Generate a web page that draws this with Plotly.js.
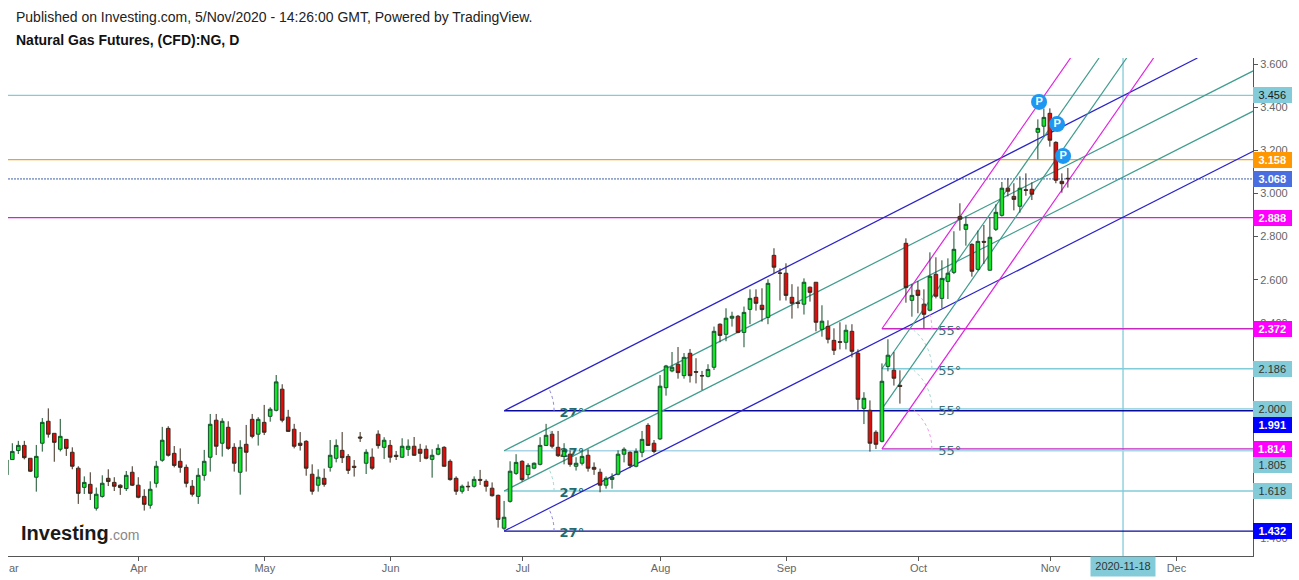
<!DOCTYPE html>
<html>
<head>
<meta charset="utf-8">
<script src="https://cdn.plot.ly/plotly-3.0.1.min.js"></script>
<style>html,body{margin:0;padding:0;background:#fff}</style>
</head>
<body>
<div id="chart" style="width:1299px;height:580px"></div>
<script>
// Daily bars. First bar sits just off the left edge.
const firstBar = -1;
const opens = [1.693,
1.764,1.806,1.830,1.770,1.682,1.840,1.942,1.886,1.812,1.858,
1.798,1.724,1.635,1.649,1.538,1.593,1.677,1.658,1.645,1.629,
1.705,1.645,1.593,1.552,1.654,1.761,1.909,1.793,1.756,1.728,
1.640,1.593,1.691,1.775,1.947,1.840,1.914,1.821,1.705,1.835,
1.951,1.882,1.937,1.965,1.993,2.091,1.961,1.905,1.840,1.849,
1.696,1.645,1.677,1.728,1.770,1.807,1.779,1.733,1.869,1.747,
1.775,1.882,1.821,1.830,1.784,1.775,1.812,1.826,1.812,1.812,
1.765,1.789,1.821,1.756,1.677,1.617,1.640,1.640,1.672,1.663,
1.631,1.598,1.445,1.570,1.700,1.756,1.694,1.724,1.742,1.830,
1.882,1.821,1.779,1.789,1.733,1.747,1.784,1.728,1.705,1.645,
1.672,1.696,1.789,1.798,1.733,1.798,1.923,1.840,1.860,2.098,
2.176,2.207,2.154,2.258,2.173,2.154,2.151,2.193,2.393,2.346,
2.421,2.430,2.355,2.462,2.518,2.481,2.425,2.713,2.631,2.630,
2.518,2.493,2.486,2.565,2.588,2.369,2.383,2.318,2.312,2.309,
2.360,2.258,2.002,1.993,1.891,1.849,2.197,2.179,2.109,2.769,
2.504,2.551,2.486,2.458,2.625,2.513,2.592,2.634,2.894,2.834,
2.764,2.648,2.778,2.644,2.834,2.899,3.025,2.987,2.941,3.018,
3.020,3.285,3.313,3.373,3.238,3.057,3.071];
const closes = [1.762,
1.802,1.830,1.773,1.710,1.779,1.937,1.882,1.844,1.872,1.816,
1.733,1.607,1.658,1.607,1.603,1.654,1.662,1.640,1.634,1.691,
1.645,1.589,1.556,1.626,1.733,1.854,1.784,1.737,1.728,1.654,
1.603,1.691,1.756,1.928,1.826,1.942,1.816,1.747,1.821,1.798,
1.872,1.951,1.891,1.998,2.125,1.947,1.895,1.826,1.830,1.724,
1.617,1.682,1.649,1.784,1.830,1.773,1.714,1.728,1.864,1.798,
1.724,1.829,1.854,1.775,1.778,1.826,1.826,1.784,1.793,1.770,
1.784,1.816,1.733,1.671,1.617,1.640,1.638,1.672,1.668,1.640,
1.596,1.486,1.496,1.710,1.751,1.671,1.737,1.747,1.830,1.877,
1.826,1.782,1.807,1.742,1.747,1.779,1.724,1.719,1.645,1.677,
1.682,1.789,1.812,1.737,1.802,1.858,1.830,1.802,2.105,2.199,
2.193,2.168,2.239,2.154,2.170,2.153,2.183,2.360,2.341,2.421,
2.430,2.355,2.448,2.513,2.490,2.461,2.583,2.658,2.630,2.527,
2.490,2.490,2.588,2.541,2.402,2.407,2.323,2.272,2.309,2.365,
2.267,2.044,2.049,1.840,1.835,2.128,2.249,2.142,2.104,2.563,
2.527,2.527,2.439,2.616,2.523,2.606,2.630,2.741,2.881,2.857,
2.639,2.778,2.774,2.797,2.913,3.025,3.011,2.973,3.025,3.015,
2.997,3.303,3.354,3.248,3.062,3.046,3.069];
const highs = [1.762,
1.840,1.851,1.851,1.770,1.832,1.957,2.002,1.886,1.953,1.858,
1.821,1.733,1.686,1.705,1.634,1.691,1.719,1.682,1.649,1.711,
1.733,1.682,1.626,1.663,1.758,1.916,1.919,1.827,1.816,1.741,
1.669,1.724,1.809,1.976,1.976,1.956,1.942,1.840,1.854,1.925,
1.976,1.961,2.018,2.007,2.157,2.114,1.995,1.930,1.892,1.854,
1.742,1.719,1.722,1.855,1.858,1.892,1.790,1.762,1.892,1.812,
1.816,1.900,1.868,1.855,1.804,1.863,1.858,1.869,1.837,1.830,
1.812,1.835,1.826,1.765,1.686,1.648,1.662,1.686,1.716,1.672,
1.658,1.601,1.572,1.756,1.789,1.761,1.747,1.751,1.868,1.930,
1.897,1.897,1.840,1.807,1.775,1.809,1.812,1.751,1.722,1.686,
1.700,1.807,1.821,1.802,1.816,1.897,1.933,1.855,2.157,2.204,
2.264,2.287,2.259,2.278,2.235,2.176,2.207,2.382,2.397,2.467,
2.451,2.436,2.475,2.555,2.555,2.560,2.602,2.746,2.653,2.676,
2.579,2.568,2.606,2.568,2.588,2.481,2.411,2.374,2.402,2.391,
2.393,2.276,2.077,2.039,1.900,2.211,2.323,2.264,2.179,2.792,
2.580,2.594,2.555,2.727,2.704,2.690,2.699,2.825,2.955,2.893,
2.769,2.828,2.854,2.890,2.950,3.054,3.071,3.048,3.080,3.094,
3.052,3.345,3.396,3.396,3.243,3.094,3.119];
const lows = [1.693,
1.762,1.790,1.765,1.706,1.615,1.801,1.866,1.754,1.802,1.781,
1.719,1.558,1.604,1.576,1.527,1.587,1.641,1.618,1.600,1.618,
1.641,1.584,1.527,1.536,1.634,1.754,1.778,1.728,1.703,1.635,
1.592,1.558,1.666,1.708,1.785,1.778,1.809,1.708,1.601,1.708,
1.863,1.829,1.878,1.940,1.988,1.937,1.894,1.816,1.806,1.689,
1.601,1.615,1.638,1.708,1.751,1.748,1.697,1.685,1.846,1.697,
1.716,1.815,1.767,1.750,1.762,1.772,1.781,1.781,1.753,1.765,
1.680,1.784,1.731,1.666,1.600,1.606,1.618,1.634,1.646,1.615,
1.592,1.448,1.437,1.564,1.693,1.662,1.677,1.719,1.737,1.827,
1.816,1.776,1.742,1.731,1.713,1.737,1.708,1.693,1.612,1.629,
1.629,1.691,1.751,1.724,1.728,1.775,1.827,1.793,1.855,2.061,
2.170,2.140,2.140,2.122,2.118,2.087,2.146,2.180,2.309,2.314,
2.382,2.351,2.286,2.393,2.456,2.405,2.393,2.630,2.503,2.503,
2.419,2.467,2.438,2.498,2.360,2.335,2.304,2.250,2.276,2.276,
2.239,1.995,1.929,1.801,1.813,1.844,2.174,2.108,2.024,2.493,
2.428,2.444,2.374,2.453,2.513,2.467,2.510,2.626,2.828,2.758,
2.614,2.642,2.673,2.642,2.826,2.893,2.987,2.922,2.911,2.990,
2.970,3.159,3.265,3.218,3.048,3.004,3.028];

const monthTickBars = [21.1, 42.1, 63.1, 85.1, 108.1, 129.1, 151.1, 173.1, 194.1];
const monthLabels = ['Apr','May','Jun','Jul','Aug','Sep','Oct','Nov','Dec'];
const priceTicks = [1.4,1.6,1.8,2.0,2.2,2.4,2.6,2.8,3.0,3.2,3.4,3.6];
// 1.6, 1.8, 2.0 and 2.2 sit fully under value tags, so they show no text
const priceTickTexts = ['1.400','','','','','2.400','2.600','2.800','3.000','3.200','3.400','3.600'];

// Horizontal levels: price, first bar, colour
const levelPrices = [3.456, 3.158, 2.888, 2.372, 2.186, 2.000, 1.814, 1.991, 1.805, 1.618, 1.432];
const levelStarts = [-1, -1, -1, 145, 145, 145, 145, 82, 82, 82, 82];
const levelColors = ['#80ccd8','#eda51f','#d81ed8','#c628c0','#80ccd8','#80ccd8','#c628c0','#0a0a9a','#a9d5e6','#80ccd8','#0a0a9a'];
const lastPrice = 3.068;

// Slanted fan lines: start bar, start price, end bar, end price, colour
const fanStartBars = [82, 82, 82, 82, 145, 145, 145, 145];
const fanStartPrices = [1.991, 1.805, 1.618, 1.432, 2.372, 2.186, 2.000, 1.814];
const fanEndBars = [197.6, 206.9, 206.9, 206.9, 176.45, 181.2, 185.8, 190.3];
const fanEndPrices = [3.63, 3.570, 3.383, 3.197, 3.63, 3.63, 3.63, 3.63];
const fanColors = ['#2a22c8','#3f9c8e','#3f9c8e','#2a22c8','#e022e0','#3f9c8e','#3f9c8e','#e022e0'];
const arcColors = ['#8a88d8','#a6d6d2','#a6d6d2','#8a88d8','#f09ae8','#a6d6d2','#a6d6d2','#f09ae8'];
const fanAngles = [27,27,27,27,55,55,55,55];

const verticalBar = 185.2;
const verticalLabel = '2020-11-18';

// Value tags on the price axis: text, centre price, background, text colour
const tagTexts = ['3.456','3.158','3.068','2.888','2.372','2.186','2.000','1.991','1.814','1.805','1.618','1.432'];
const tagPrices = [3.456, 3.158, 3.068, 2.888, 2.372, 2.186, 2.000, 1.925, 1.812, 1.737, 1.618, 1.432];
const tagColors = ['#83cbd9','#ff9800','#4a6ee0','#ff00ff','#ff00ff','#83cbd9','#83cbd9','#0000ff','#ff00ff','#83cbd9','#83cbd9','#0000ff'];
const tagFonts = ['#1a1a1a','#fff','#fff','#fff','#fff','#333','#333','#fff','#fff','#333','#333','#fff'];

const pivotBars = [171.2, 174.2, 175.2];
const pivotPrices = [3.426, 3.323, 3.175];

// Layout geometry
const W = 1299, H = 580, L = 8, R = 1253.5, T = 58, B = 556;
const xMin = -0.717, xMax = 206.87, yMin = 1.316, yMax = 3.63;
const xPx = (R - L) / (xMax - xMin), yPx = (B - T) / (yMax - yMin);
const paperX = px => (px - L) / (R - L);
const paperY = py => 1 - (py - T) / (B - T);

const bars = opens.map((_, i) => firstBar + i);

const trace = {
  type: 'candlestick', x: bars, open: opens, high: highs, low: lows, close: closes,
  increasing: {line: {color: '#14502a', width: 1}, fillcolor: '#10e626'},
  decreasing: {line: {color: '#3a2a1e', width: 1}, fillcolor: '#e00c0c'},
  whiskerwidth: 0, hoverinfo: 'skip', showlegend: false
};
const pivots = {
  type: 'scatter', mode: 'markers+text', x: pivotBars, y: pivotPrices,
  marker: {size: 16, color: '#1c97f2', line: {width: 0}},
  text: ['<b>P</b>','<b>P</b>','<b>P</b>'], textposition: 'middle center',
  textfont: {color: '#fff', size: 11, family: 'Liberation Sans'},
  hoverinfo: 'skip', showlegend: false, cliponaxis: false
};

const shapes = [];
levelPrices.forEach((p, i) => shapes.push({type:'line', layer:'below', xref:'x', yref:'y',
  x0: levelStarts[i], x1: xMax, y0: p, y1: p, line:{color: levelColors[i], width:1.3}}));
shapes.push({type:'line', layer:'below', xref:'x', yref:'y', x0:xMin, x1:xMax, y0:lastPrice, y1:lastPrice,
  line:{color:'#3f5fa8', width:1, dash:'2px,1px'}});
shapes.push({type:'line', layer:'below', xref:'x', yref:'paper', x0:verticalBar, x1:verticalBar, y0:0, y1:1,
  line:{color:'#80ccd8', width:1.3}});
fanStartBars.forEach((b, i) => {
  shapes.push({type:'line', layer:'below', xref:'x', yref:'y', x0:b, y0:fanStartPrices[i], x1:fanEndBars[i], y1:fanEndPrices[i],
    line:{color:fanColors[i], width:1.2}});
  // dotted angle arc, 50 px radius around the fan's anchor
  let d = '';
  for (let a = 0; a <= fanAngles[i]; a += fanAngles[i] / 12) {
    const r = a * Math.PI / 180;
    d += (a === 0 ? 'M' : 'L') + (b + 50 * Math.cos(r) / xPx) + ',' + (fanStartPrices[i] + 50 * Math.sin(r) / yPx);
  }
  shapes.push({type:'path', layer:'below', xref:'x', yref:'y', path:d, line:{color:arcColors[i], width:1, dash:'dot'}});
  // angle label, under the candles
  const cx = fanAngles[i] === 27 ? 93.3 : 156.3;
  const isSmall = fanAngles[i] === 27;
  shapes.push({type:'line', layer:'below', xref:'x', yref:'y', x0:cx-3, x1:cx+3, y0:fanStartPrices[i]-0.004, y1:fanStartPrices[i]-0.004,
    line:{width:0, color:'rgba(0,0,0,0)'},
    label:{text: fanAngles[i] + '°', textposition:'middle', textangle:0, xanchor:'center', yanchor:'middle',
      font:{family:'DejaVu Sans', size:13, color: isSmall ? '#256a6c' : '#3d7078', weight: isSmall ? 'bold' : 'normal'}}});
});
// orange dot of the logo
shapes.push({type:'circle', xref:'paper', yref:'paper', layer:'above',
  x0:paperX(81.5), x1:paperX(84), y0:paperY(526.5), y1:paperY(524), fillcolor:'#f5a623', line:{width:0}});

const fontBase = 'Liberation Sans';
const annotations = [];
tagTexts.forEach((t, i) => annotations.push({xref:'paper', yref:'y', x:paperX(1253.5), y:tagPrices[i], xanchor:'left', yanchor:'middle',
  text: t, showarrow:false, bgcolor: tagColors[i], width:38.5, height:15.5, borderpad:0, borderwidth:0, align:'center', valign:'middle',
  font:{family:fontBase, size:11, color:tagFonts[i], weight: tagFonts[i] === '#fff' ? 'bold' : 'normal'}}));
annotations.push({xref:'x', yref:'paper', x:verticalBar, y:paperY(566), xanchor:'center', yanchor:'middle', text:verticalLabel, showarrow:false,
  bgcolor:'#83cbd9', width:64, height:18.5, borderpad:0, font:{family:fontBase, size:11, color:'#333'}});
annotations.push({xref:'paper', yref:'paper', x:paperX(8), y:paperY(568), xanchor:'left', yanchor:'middle', text:'ar', showarrow:false,
  borderpad:0, font:{family:fontBase, size:11, color:'#666'}});
annotations.push({xref:'paper', yref:'paper', x:paperX(14), y:paperY(17), xanchor:'left', yanchor:'middle', showarrow:false,
  text:'Published on Investing.com, 5/Nov/2020 - 14:26:00 GMT, Powered by TradingView.', font:{family:fontBase, size:14, color:'#222'}});
annotations.push({xref:'paper', yref:'paper', x:paperX(14), y:paperY(40), xanchor:'left', yanchor:'middle', showarrow:false,
  text:'<b>Natural Gas Futures, (CFD):NG, D</b>', font:{family:fontBase, size:14, color:'#111'}});
annotations.push({xref:'paper', yref:'paper', x:paperX(20), y:paperY(533), xanchor:'left', yanchor:'middle', showarrow:false, borderpad:0,
  text:'<b>Investing</b>', font:{family:fontBase, size:20, color:'#1a1a1a'}});
annotations.push({xref:'paper', yref:'paper', x:paperX(108.5), y:paperY(535), xanchor:'left', yanchor:'middle', showarrow:false, borderpad:0,
  text:'.com', font:{family:fontBase, size:14, color:'#888'}});

const layout = {
  width: W, height: H, paper_bgcolor:'#fff', plot_bgcolor:'#fff', showlegend:false, dragmode:false,
  margin:{l:L, r:W-R, t:T, b:H-B, pad:0},
  boxgap: 0.25, boxgroupgap: 0.2,
  font:{family:fontBase, size:11, color:'#666'},
  xaxis:{type:'linear', range:[xMin,xMax], showgrid:false, zeroline:false, showline:true, linecolor:'#555', linewidth:1,
    ticks:'outside', ticklen:4, tickcolor:'#555', tickmode:'array', tickvals:monthTickBars, ticktext:monthLabels, ticklabelstandoff:-2,
    rangeslider:{visible:false}, fixedrange:true, tickfont:{size:11, color:'#666', family:fontBase}},
  yaxis:{type:'linear', side:'right', range:[yMin,yMax], showgrid:false, zeroline:false, showline:true, linecolor:'#555', linewidth:1,
    ticks:'outside', ticklen:4, tickcolor:'#555', tickmode:'array', tickvals:priceTicks, ticktext:priceTickTexts,
    fixedrange:true, tickfont:{size:11, color:'#666', family:fontBase}},
  shapes, annotations
};
Plotly.newPlot('chart', [trace, pivots], layout, {displayModeBar:false, staticPlot:true});
</script>
</body>
</html>
